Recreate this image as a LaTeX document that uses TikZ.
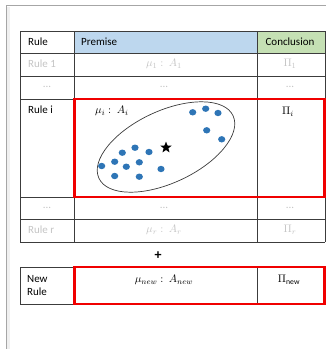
\documentclass[tikz,border=0pt]{standalone}
\usepackage{fontspec}
\setmainfont{Carlito}
\usepackage{tikz}
\usetikzlibrary{shapes.geometric,positioning}
\definecolor{headBlue}  {RGB}{189,215,238}
\definecolor{headGreen} {RGB}{197,224,180}
\definecolor{dotBlue}   {RGB}{46, 117,182}
\definecolor{fadeGray}  {RGB}{196,196,196}
\definecolor{gridGray}  {RGB}{60, 60, 60}
\definecolor{ruleRed}   {RGB}{240,0,  0}

\begin{document}
\begin{tikzpicture}[x=1pt,y=-1pt,
    txt/.style={font=\fontsize{11}{13}\selectfont,inner sep=0pt},
    faded/.style={txt,fadeGray},
    grid/.style={gridGray,line width=0.8pt},
    hilite/.style={ruleRed,line width=2.8pt},
    blob/.style={fill=dotBlue,draw=none}]
        \useasboundingbox (0,0) rectangle (326,349);
        % Pagina
        \draw[gray!12,line width=3pt] (8.5,7) -- (8.5,349);
        \draw[gray!70,line width=0.8pt] (6,349) -- (6,5) -- (326,5);

        % Cabecalho
        \fill[headBlue]  (74,31) rectangle (257,53);
        \fill[headGreen] (257,31) rectangle (325,53);

        % Grade da tabela
        \foreach \y in {31,53,76,99,197,219,242}{
          \draw[grid] (20,\y) -- (325,\y);
        }
        \foreach \x in {20,74,257,325}{
          \draw[grid] (\x,31) -- (\x,242);
        }

        % Textos do cabecalho
        \node[txt,anchor=west] (hRule) at (28,42) {Rule};
        \node[txt,anchor=west] (hPrem) at (81,42) {Premise};
        \node[txt] (hConc) at (290,42) {Conclusion};

        % Regra 1 e reticencias
        \node[faded,anchor=west] (r1) at (28,64) {Rule 1};
        \node[faded] (p1) at (164,64) {$\mu_1:\ A_1$};
        \node[faded] (c1) at (290,64) {$\Pi_1$};
        \node[faded] (d1a) at (47,87) {...};
        \node[faded] (d1b) at (164,87) {...};
        \node[faded] (d1c) at (290,87) {...};

        % Regra i
        \node[txt,anchor=west] (ri) at (28,110) {Rule i};
        \node[txt,anchor=west] (pi) at (95,111) {$\mu_i:\ A_i$};
        \node[txt] (ci) at (288,112) {$\Pi_i$};
        \draw[gridGray,line width=0.7pt,rotate around={25:(166,147)}]
          (166,147) ellipse [x radius=74,y radius=36];
        \foreach \px/\py in {192.7/112.3, 205.7/108.7, 218/113, 206.7/130.3,
                              221.7/139.3, 135/147.7, 122.3/152.7, 149/152,
                              114.7/161.7, 139.3/162.3, 126.3/166.7, 101.7/166,
                              161/169, 114.7/176, 139.3/176.7}{
          \fill[blob] (\px,\py) ellipse [x radius=3.6,y radius=3.2];
        }
        \node[star,star points=5,star point ratio=2.4,fill=black,
              minimum size=12pt,inner sep=0pt] (centro) at (166,147.5) {};

        % Regra r
        \node[faded] (d2a) at (47,208) {...};
        \node[faded] (d2b) at (164,208) {...};
        \node[faded] (d2c) at (290,208) {...};
        \node[faded,anchor=west] (rr) at (28,230) {Rule r};
        \node[faded] (pr) at (164,230) {$\mu_r:\ A_r$};
        \node[faded] (cr) at (290,230) {$\Pi_r$};

        % Soma
        \node[font=\fontsize{14}{14}\selectfont\bfseries,inner sep=0pt]
          (plus) at (158,255.5) {+};

        % Nova regra
        \draw[grid] (20,267) rectangle (325,304);
        \draw[grid] (74,267) -- (74,304);
        \draw[grid] (257,267) -- (257,304);
        \node[txt,anchor=west,align=left] (rn) at (27,285.5) {New\\Rule};
        \node[txt] (pn) at (164,280) {$\mu_{new}:\ A_{new}$};
        \node[txt] (cn) at (289,280) {$\Pi_{\mathrm{new}}$};

        % Destaques
        \draw[hilite] (74.5,99) rectangle (324.5,197);
        \draw[hilite] (74.5,267) rectangle (324.5,304);
      \end{tikzpicture}
\end{document}
